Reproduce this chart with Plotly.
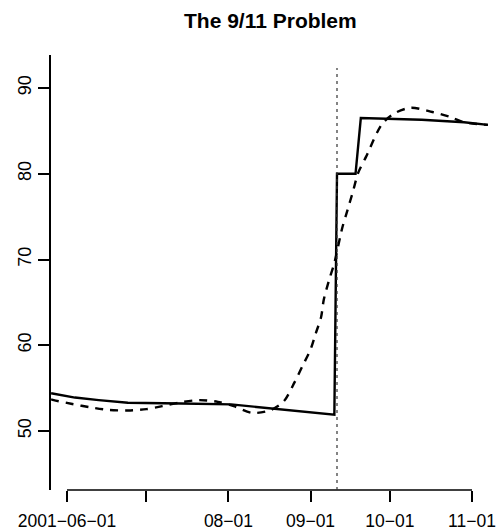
import pandas as pd
import plotly.graph_objects as go

# Poll series: solid = raw interpolated values, dashed = smoothed fit
solid_dates = ["2001-05-26", "2001-06-04", "2001-06-13", "2001-06-24", "2001-07-14",
               "2001-08-02", "2001-09-10", "2001-09-11", "2001-09-18", "2001-09-20",
               "2001-10-13", "2001-10-29", "2001-11-07"]
solid_values = [54.4, 53.9, 53.6, 53.3, 53.2,
                53.1, 51.9, 80.0, 80.0, 86.5,
                86.3, 86.0, 85.7]

smooth_dates = ["2001-05-26", "2001-05-27", "2001-06-03", "2001-06-10", "2001-06-17",
                "2001-06-24", "2001-07-01", "2001-07-07", "2001-07-15", "2001-07-21",
                "2001-07-28", "2001-08-03", "2001-08-10", "2001-08-17", "2001-08-22",
                "2001-08-26", "2001-08-29", "2001-09-01", "2001-09-03", "2001-09-05",
                "2001-09-06", "2001-09-08", "2001-09-10", "2001-09-13", "2001-09-15",
                "2001-09-17", "2001-09-19", "2001-09-22", "2001-09-28", "2001-10-03",
                "2001-10-09", "2001-10-17", "2001-10-24", "2001-10-29", "2001-11-07"]
smooth_values = [53.7, 53.6, 53.15, 52.75, 52.45,
                 52.4, 52.55, 52.9, 53.4, 53.6,
                 53.4, 52.9, 52.1, 52.45, 53.5,
                 55.7, 57.6, 59.5, 61.4, 63.3,
                 65.3, 67.6, 69.6, 73.7, 75.8,
                 77.9, 80.1, 82.0, 85.8, 87.1,
                 87.7, 87.2, 86.6, 86.0, 85.7]

event_date = "2001-09-11"

x_tickvals = ["2001-06-01", "2001-07-01", "2001-08-01", "2001-09-01", "2001-10-01", "2001-11-01"]
x_ticktext = ["2001\u221206\u221201", "", "08\u221201", "09\u221201", "10\u221201", "11\u221201"]
y_tickvals = [50, 60, 70, 80, 90]

FONT = "Liberation Sans, Arial, Helvetica, sans-serif"

fig = go.Figure()
fig.add_trace(go.Scatter(
    x=smooth_dates, y=smooth_values, mode="lines",
    line=dict(color="black", width=2.4, dash="8px,7px", shape="spline", smoothing=0.8),
    hoverinfo="skip", showlegend=False,
))
fig.add_trace(go.Scatter(
    x=solid_dates, y=solid_values, mode="lines",
    line=dict(color="black", width=2.4),
    hoverinfo="skip", showlegend=False,
))

start = pd.Timestamp("2001-06-01")
x_range = [start - pd.Timedelta(days=6.04), start + pd.Timedelta(days=159.8)]

# x axis line spans only the labelled months
fig.add_shape(type="line", xref="x", yref="paper",
              x0=x_tickvals[0], x1=x_tickvals[-1], y0=0, y1=0,
              line=dict(color="black", width=1.5))
# event marker
fig.add_shape(type="line", xref="x", yref="paper",
              x0=event_date, x1=event_date, y0=0, y1=0.97,
              line=dict(color="#333333", width=1.2, dash="3px,4px"))

fig.update_layout(
    width=497, height=531, autosize=False,
    margin=dict(l=51, r=7, t=55, b=41),
    paper_bgcolor="white", plot_bgcolor="white",
    font=dict(family=FONT, color="black"),
    title=dict(text="<b>The 9/11 Problem</b>", x=0.544, xanchor="center",
               y=0.962, yanchor="middle", font=dict(size=21, family=FONT)),
    xaxis=dict(range=x_range, tickvals=x_tickvals, ticktext=x_ticktext,
               showgrid=False, zeroline=False, showline=False, automargin=False,
               ticks="outside", ticklen=11, tickwidth=1.5, tickcolor="black",
               ticklabelstandoff=4,
               tickfont=dict(size=17.5, family=FONT)),
    yaxis=dict(range=[43.12, 93.85], tickvals=y_tickvals,
               showgrid=False, zeroline=False, showline=True, automargin=False,
               linecolor="black", linewidth=1.5,
               ticks="outside", ticklen=11, tickwidth=1.5, tickcolor="black",
               tickangle=-90, tickfont=dict(size=18, family=FONT)),
)

fig.write_html("out.html")
